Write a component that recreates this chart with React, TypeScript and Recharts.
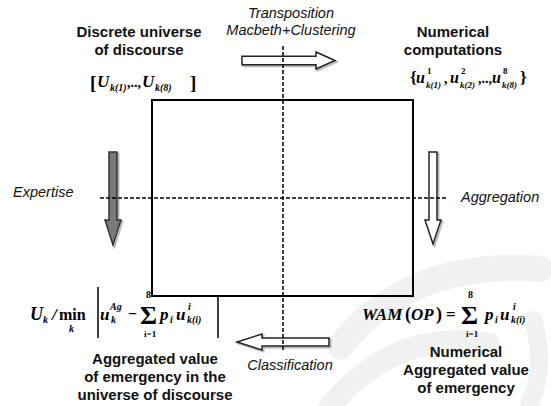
import React from 'react';
import { ScatterChart, XAxis, YAxis, Scatter, ReferenceArea, ReferenceLine } from 'recharts';

const W = 551;
const H = 406;

// stage titles, one entry per line
const universeTitle = ['Discrete universe', 'of discourse'];
const computeTitle = ['Numerical', 'computations'];
const classifiedTitle = ['Aggregated value', 'of emergency in the', 'universe of discourse'];
const aggregatedTitle = ['Numerical', 'Aggregated value', 'of emergency'];

// process step labels
const transposeLabel = ['Transposition', 'Macbeth+Clustering'];
const expertiseLabel = ['Expertise'];
const aggregationLabel = ['Aggregation'];
const classificationLabel = ['Classification'];

// formula pieces: [text, dx, dy, fontSize, upright]
type Tok = [string, number, number, number, boolean?];
const universeSet: Tok[] = [
  ['[', 0, 2, 19, true], ['U', 7, 0, 17], ['k(1)', 20, 4, 10], [',..,', 37, 0, 14, true],
  ['U', 52, 0, 17], ['k(8)', 65, 4, 10], [']', 100, 2, 19, true],
];
const computeSet: Tok[] = [
  ['{', 0, 0, 17, true], ['u', 6, 0, 16], ['1', 17, -9, 9, true], ['k(1)', 16, 5, 9],
  [',', 34, 0, 14, true], ['u', 40, 0, 16], ['2', 51, -9, 9, true], ['k(2)', 50, 5, 9],
  [',..,', 68, 0, 14, true], ['u', 82, 0, 16], ['8', 93, -9, 9, true], ['k(8)', 92, 5, 9],
  ['}', 110, 0, 17, true],
];
const classifyRule: Tok[] = [
  ['U', 0, 0, 18], ['k', 13, 3, 10], ['/', 22, 0, 17], ['min', 29, 0, 16, true], ['k', 39, 12, 10],
  ['u', 70, 0, 17], ['Ag', 80, -10, 10], ['k', 81, 3, 10], ['\u2212', 98, -1, 16, true],
  ['\u03A3', 110, 4, 26, true], ['8', 116, -22, 10, true], ['i=1', 114, 17, 9, true],
  ['p', 130, 0, 17], ['i', 140, 3, 10], ['u', 146, 0, 17], ['i', 158, -10, 10], ['k(i)', 157, 3, 10],
];
const wamRule: Tok[] = [
  ['WAM', 0, 0, 17], ['(', 43, 0, 18, true], ['OP', 49, 0, 17], [')', 74, 0, 18, true], ['=', 84, 0, 17, true],
  ['\u03A3', 99, 4, 26, true], ['8', 106, -22, 10, true], ['i=1', 104, 17, 9, true],
  ['p', 123, 0, 17], ['i', 133, 3, 10], ['u', 138, 0, 17], ['i', 151, -10, 10], ['k(i)', 149, 3, 10],
];

// layout tables built from the arrays above
const titles = [
  { x: 139, y: 37, lines: universeTitle },
  { x: 453, y: 37, lines: computeTitle },
  { x: 155, y: 364, lines: classifiedTitle },
  { x: 466, y: 357, lines: aggregatedTitle },
];
const steps = [
  { x: 291, y: 18, lines: transposeLabel, anchor: 'middle' },
  { x: 13, y: 197, lines: expertiseLabel, anchor: 'start' },
  { x: 461, y: 202, lines: aggregationLabel, anchor: 'start' },
  { x: 290, y: 370, lines: classificationLabel, anchor: 'middle' },
];
const formulas = [
  { x: 90, y: 87, toks: universeSet, bars: [] as number[][] },
  { x: 410, y: 83, toks: computeSet, bars: [] as number[][] },
  { x: 30, y: 320, toks: classifyRule, bars: [[68, -33, 18], [188, -23, 18]] },
  { x: 362, y: 320, toks: wamRule, bars: [] as number[][] },
];
const arrows = [
  { x1: 242, x2: 335, y1: 52, y2: 69, dir: 'right', head: 19, fill: '#fff' },
  { x1: 237, x2: 329, y1: 334, y2: 350, dir: 'left', head: 25, fill: '#fff' },
  { x1: 105, x2: 121, y1: 152, y2: 245, dir: 'down', head: 25, fill: '#7a7a7a' },
  { x1: 425, x2: 441, y1: 152, y2: 244, dir: 'down', head: 24, fill: '#fff' },
];

const TitleShape = (p: any) => {
  const { cx, cy, payload } = p;
  return (
    <text x={cx} y={cy} textAnchor="middle" fontFamily="'Liberation Sans', Arial, sans-serif" fontWeight="bold" fontSize={15} fill="#111">
      {payload.lines.map((l: string, i: number) => (
        <tspan key={i} x={cx} dy={i === 0 ? 0 : 18}>{l}</tspan>
      ))}
    </text>
  );
};

const StepShape = (p: any) => {
  const { cx, cy, payload } = p;
  return (
    <text x={cx} y={cy} textAnchor={payload.anchor} fontFamily="'Liberation Sans', Arial, sans-serif" fontStyle="italic" fontSize={14.5} fill="#111">
      {payload.lines.map((l: string, i: number) => (
        <tspan key={i} x={cx} dy={i === 0 ? 0 : 17}>{l}</tspan>
      ))}
    </text>
  );
};

const MathShape = (p: any) => {
  const { cx, cy, payload } = p;
  return (
    <g fontFamily="'Liberation Serif', 'Times New Roman', serif" fontWeight="bold" fill="#000">
      {payload.toks.map(([t, dx, dy, s, up]: Tok, i: number) => (
        <text key={i} x={cx + dx} y={cy + dy} fontSize={s} fontStyle={up ? 'normal' : 'italic'}>{t}</text>
      ))}
      {payload.bars.map(([dx, a, b]: number[], i: number) => (
        <line key={'b' + i} x1={cx + dx} x2={cx + dx} y1={cy + a} y2={cy + b} stroke="#000" strokeWidth={1.5} />
      ))}
    </g>
  );
};

const arrowShape = (dir: string, head: number, fill: string) => (p: any) => {
  const { x, y, width: w, height: h } = p;
  let pts: number[][];
  if (dir === 'right' || dir === 'left') {
    const m = y + h / 2;
    const s = h * 0.25;
    pts = [[x, m - s], [x + w - head, m - s], [x + w - head, y], [x + w, m], [x + w - head, y + h], [x + w - head, m + s], [x, m + s]];
    if (dir === 'left') pts = pts.map(([px, py]) => [2 * x + w - px, py]);
  } else {
    const m = x + w / 2;
    const s = w * 0.25;
    pts = [[m - s, y], [m + s, y], [m + s, y + h - head], [x + w, y + h - head], [m, y + h], [x, y + h - head], [m - s, y + h - head]];
  }
  const poly = pts.map((q) => q.join(',')).join(' ');
  return (
    <g>
      <polygon points={poly} fill="none" stroke="#bbb" strokeWidth={2} transform="translate(1.5,1.5)" />
      <polygon points={poly} fill={fill} stroke={fill === '#fff' ? '#222' : '#333'} strokeWidth={1.5} />
    </g>
  );
};

// faint watermark swirl behind the lower right corner
const Watermark = (p: any) => {
  const { x, y, width: w, height: h } = p;
  return (
    <g fill="none" stroke="#f1f1f1" strokeLinecap="round">
      <path d={`M ${x + 10} ${y + h * 0.62} Q ${x + w * 0.35} ${y + 10} ${x + w * 0.95} ${y + h * 0.12}`} strokeWidth={26} />
      <path d={`M ${x} ${y + h} Q ${x + w * 0.3} ${y + h * 0.5} ${x + w * 0.72} ${y + h * 0.6}`} strokeWidth={22} />
      <path d={`M ${x + w * 0.92} ${y + h * 0.45} Q ${x + w * 0.98} ${y + h * 0.75} ${x + w * 0.9} ${y + h}`} strokeWidth={18} />
    </g>
  );
};

export default function App() {
  return (
    <div style={{ position: 'absolute', left: 0, top: 0, width: W, height: H, background: '#fff' }}>
      <ScatterChart width={W} height={H} margin={{ top: 0, right: 0, bottom: 0, left: 0 }}>
        <XAxis type="number" dataKey="x" domain={[0, W]} allowDataOverflow hide />
        <YAxis type="number" dataKey="y" domain={[0, H]} allowDataOverflow reversed hide />
        <ReferenceArea x1={330} x2={551} y1={250} y2={406} shape={Watermark} />
        <ReferenceArea x1={152} x2={413} y1={100} y2={296} fill="none" fillOpacity={0} stroke="#000" strokeWidth={2} />
        {arrows.map((a, i) => (
          <ReferenceArea key={i} x1={a.x1} x2={a.x2} y1={a.y1} y2={a.y2} shape={arrowShape(a.dir, a.head, a.fill)} />
        ))}
        <ReferenceLine segment={[{ x: 283, y: 46 }, { x: 283, y: 352 }]} stroke="#000" strokeWidth={1.5} strokeDasharray="4 2" />
        <ReferenceLine segment={[{ x: 100, y: 198 }, { x: 447, y: 198 }]} stroke="#000" strokeWidth={1.5} strokeDasharray="4 2" />
        <Scatter data={titles} shape={TitleShape} isAnimationActive={false} />
        <Scatter data={steps} shape={StepShape} isAnimationActive={false} />
        <Scatter data={formulas} shape={MathShape} isAnimationActive={false} />
      </ScatterChart>
    </div>
  );
}
